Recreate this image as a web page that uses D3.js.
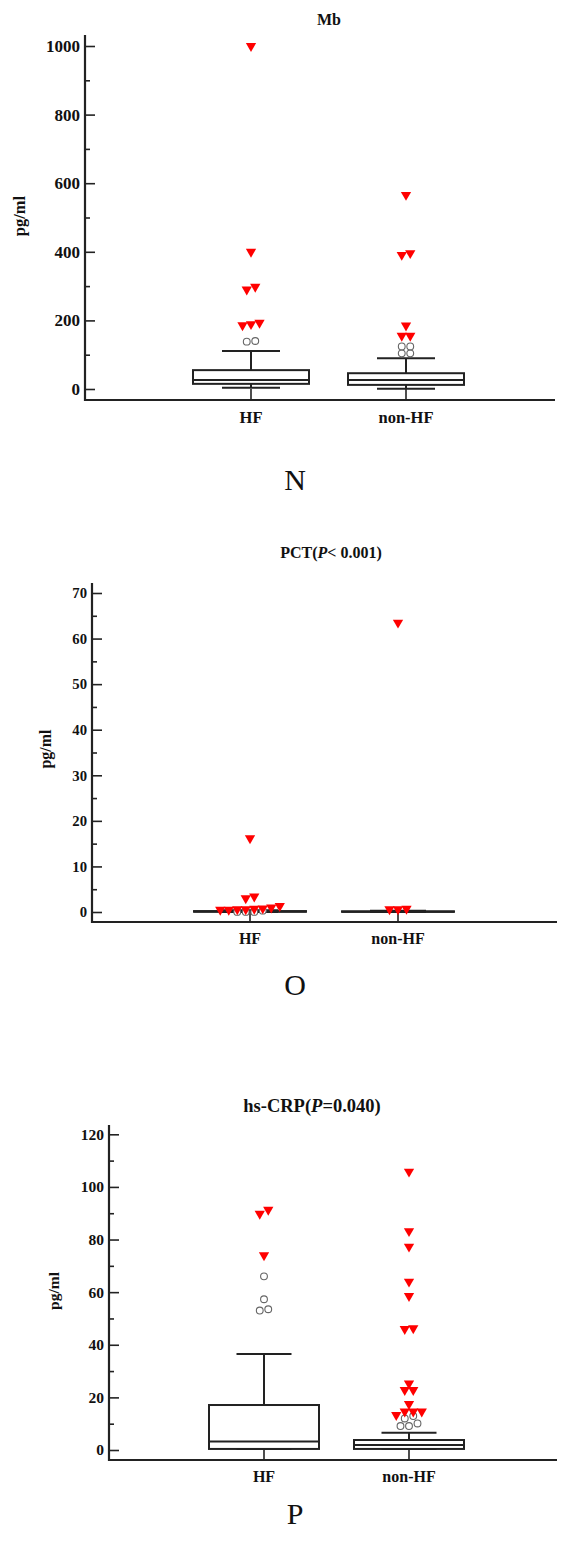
<!DOCTYPE html>
<html>
<head>
<meta charset="utf-8">
<script src="https://cdn.jsdelivr.net/npm/d3@7"></script>
<style>
body { margin: 0; background: #fff; }
svg { display: block; }
text { font-family: "Liberation Serif", "Times New Roman", serif; fill: #111; }
</style>
</head>
<body>
<svg id="chart" width="568" height="1555"></svg>
<script>
const groups = ["HF", "non-HF"];

// Mb: [lower whisker, Q1, median, Q3, upper whisker] per group
const mbBoxes = [[4, 15, 26, 55, 111], [1, 12, 26, 46, 90]];
const mbFarHF = [1000, 400, 298, 290, 193, 189, 186];
const mbFarNon = [566, 396, 391, 185, 155, 155];
const mbNearHF = [140, 138];
const mbNearNon = [124, 124, 104, 104];
const mbTicks = [0, 200, 400, 600, 800, 1000];
const mbMinor = [100, 300, 500, 700, 900];

// PCT
const pctBoxes = [[0.02, 0.05, 0.1, 0.2, 0.4], [0.02, 0.04, 0.08, 0.15, 0.3]];
const pctFarHF = [16.2, 3.4, 3.0, 1.3, 1.0, 0.8, 0.7, 0.6, 0.6, 0.5, 0.5];
const pctFarNon = [63.5, 0.7, 0.6, 0.6];
const pctNearHF = [0.3, 0.02, 0.02, 0.02];
const pctNearNon = [];
const pctTicks = [0, 10, 20, 30, 40, 50, 60, 70];
const pctMinor = [5, 15, 25, 35, 45, 55, 65];

// hs-CRP
const crpBoxes = [[0.4, 0.4, 3.2, 17.1, 36.5], [0.4, 0.4, 1.9, 3.8, 6.6]];
const crpFarHF = [91.3, 89.8, 74];
const crpFarNon = [105.8, 83.2, 77.3, 64, 58.5, 46.3, 46, 25.3, 22.8, 22.8, 17.5, 14.6, 14.6, 14.6, 13.3];
const crpNearHF = [66, 57.3, 53.5, 53];
const crpNearNon = [12.9, 12, 10.1, 9.1, 9.1];
const crpTicks = [0, 20, 40, 60, 80, 100, 120];
const crpMinor = [10, 30, 50, 70, 90, 110];

const panels = [
    {
        title: [["Mb", false]], letter: "N",
        boxes: mbBoxes, far: [mbFarHF, mbFarNon], near: [mbNearHF, mbNearNon],
        ticks: mbTicks, minor: mbMinor,
        axisX: 85, top: 35, baseY: 400, right: 555, yRange: [389, 46],
        centers: [251, 406], boxW: 116,
        titleX: 329, titleY: 25, titleSize: 16, tickFont: 17, catFont: 16.5,
        labX: 19, labY: 216, labFont: 16.5, letterY: 490
    },
    {
        title: [["PCT(", false], ["P", true], ["< 0.001)", false]], letter: "O",
        boxes: pctBoxes, far: [pctFarHF, pctFarNon], near: [pctNearHF, pctNearNon],
        ticks: pctTicks, minor: pctMinor,
        axisX: 92, top: 583, baseY: 922, right: 557, yRange: [912, 593],
        centers: [250, 398], boxW: 112,
        titleX: 331, titleY: 558, titleSize: 16, tickFont: 14.7, catFont: 16,
        labX: 45, labY: 749, labFont: 16, letterY: 995
    },
    {
        title: [["hs-CRP(", false], ["P", true], ["=0.040)", false]], letter: "P",
        boxes: crpBoxes, far: [crpFarHF, crpFarNon], near: [crpNearHF, crpNearNon],
        ticks: crpTicks, minor: crpMinor,
        axisX: 109, top: 1125, baseY: 1460, right: 557, yRange: [1450, 1134.3],
        centers: [264, 409], boxW: 110,
        titleX: 312, titleY: 1112, titleSize: 18.5, tickFont: 15.5, catFont: 16,
        labX: 54, labY: 1291, labFont: 15.5, letterY: 1524
    }
];

const svg = d3.select("#chart");
svg.append("rect").attr("width", 568).attr("height", 1555).attr("fill", "#fff");

const ink = "#222";
const triangle = d3.symbol().type(d3.symbolTriangle).size(46);

// points with nearly the same value sit side by side, centred on the group
function spread(vals, c, y) {
    const sorted = vals.slice().sort((a, b) => a - b);
    const clusters = [];
    sorted.forEach(v => {
        const last = clusters[clusters.length - 1];
        if (last && Math.abs(y(v) - y(last[last.length - 1])) < 4.5) last.push(v);
        else clusters.push([v]);
    });
    return clusters.flatMap(cl => cl.map((v, i) => ({ v, x: c + (i - (cl.length - 1) / 2) * 8.5 })));
}

function drawPanel(p) {
    const g = svg.append("g");
    const y = d3.scaleLinear()
        .domain([p.ticks[0], p.ticks[p.ticks.length - 1]])
        .range(p.yRange);
    const step = p.centers[1] - p.centers[0];
    const x = d3.scaleBand().domain(groups)
        .range([p.centers[0] - step / 2, p.centers[1] + step / 2]);
    const cx = d => x(d) + x.bandwidth() / 2;

    // y axis, ticks pointing inwards
    const yAx = g.append("g").attr("transform", `translate(${p.axisX},0)`)
        .call(d3.axisLeft(y).tickValues(p.ticks).tickFormat(d => String(d))
            .tickSize(-10).tickSizeOuter(0).tickPadding(5));
    const yMin = g.append("g").attr("transform", `translate(${p.axisX},0)`)
        .call(d3.axisLeft(y).tickValues(p.minor).tickSize(-5).tickSizeOuter(0).tickFormat(""));
    [yAx, yMin].forEach(a => {
        a.select(".domain").remove();
        a.attr("font-family", null);
        a.selectAll(".tick line").attr("stroke", ink).attr("stroke-width", 1.6);
    });
    yAx.selectAll(".tick text")
        .style("font-size", p.tickFont + "px").style("font-weight", "bold").attr("fill", "#111");

    // x axis
    const xAx = g.append("g").attr("transform", `translate(0,${p.baseY})`)
        .call(d3.axisBottom(x).tickSize(-11).tickSizeOuter(0).tickPadding(11));
    xAx.select(".domain").remove();
    xAx.attr("font-family", null);
    xAx.selectAll(".tick line").attr("stroke", ink).attr("stroke-width", 1.6);
    xAx.selectAll(".tick text")
        .style("font-size", p.catFont + "px").style("font-weight", "bold").attr("fill", "#111");

    g.append("line")
        .attr("x1", p.axisX).attr("x2", p.axisX).attr("y1", p.top).attr("y2", p.baseY + 1)
        .attr("stroke", ink).attr("stroke-width", 2.2);
    g.append("line")
        .attr("x1", p.axisX - 1).attr("x2", p.right).attr("y1", p.baseY).attr("y2", p.baseY)
        .attr("stroke", ink).attr("stroke-width", 2.2);

    // boxes and whiskers
    p.boxes.forEach((b, i) => {
        const c = cx(groups[i]);
        const [lo, q1, med, q3, hi] = b;
        const hw = p.boxW / 2;
        const bg = g.append("g").attr("stroke", ink).attr("stroke-width", 2);
        bg.append("line").attr("x1", c).attr("x2", c).attr("y1", y(q3)).attr("y2", y(hi));
        bg.append("line").attr("x1", c).attr("x2", c).attr("y1", y(q1)).attr("y2", y(lo));
        [hi, lo].forEach(v => bg.append("line")
            .attr("x1", c - hw / 2).attr("x2", c + hw / 2).attr("y1", y(v)).attr("y2", y(v)));
        bg.append("rect")
            .attr("x", c - hw).attr("width", p.boxW)
            .attr("y", y(q3)).attr("height", Math.max(0.01, y(q1) - y(q3)))
            .attr("fill", "#fff");
        bg.append("line").attr("x1", c - hw).attr("x2", c + hw).attr("y1", y(med)).attr("y2", y(med));
    });

    // outside values (circles) and far-out values (red triangles)
    groups.forEach((grp, i) => {
        const c = cx(grp);
        g.append("g").selectAll("circle")
            .data(spread(p.near[i], c, y))
            .join("circle")
            .attr("cx", d => d.x).attr("cy", d => y(d.v)).attr("r", 3.4)
            .attr("fill", "#fff").attr("stroke", "#666").attr("stroke-width", 1.1);
        g.append("g").selectAll("path")
            .data(spread(p.far[i], c, y))
            .join("path")
            .attr("d", triangle)
            .attr("transform", d => `translate(${d.x},${y(d.v)}) rotate(180)`)
            .attr("fill", "#f00");
    });

    // title
    const t = g.append("text")
        .attr("x", p.titleX).attr("y", p.titleY)
        .attr("text-anchor", "middle")
        .style("font-size", p.titleSize + "px").style("font-weight", "bold");
    p.title.forEach(([s, it]) => t.append("tspan").text(s).style("font-style", it ? "italic" : "normal"));

    // y label
    g.append("text")
        .attr("transform", `translate(${p.labX},${p.labY}) rotate(-90)`)
        .attr("dy", "0.35em").attr("text-anchor", "middle")
        .style("font-size", p.labFont + "px").style("font-weight", "bold")
        .text("pg/ml");

    // panel letter
    g.append("text")
        .attr("x", 295).attr("y", p.letterY).attr("text-anchor", "middle")
        .style("font-size", "30px")
        .text(p.letter);
}

panels.forEach(drawPanel);
</script>
</body>
</html>
